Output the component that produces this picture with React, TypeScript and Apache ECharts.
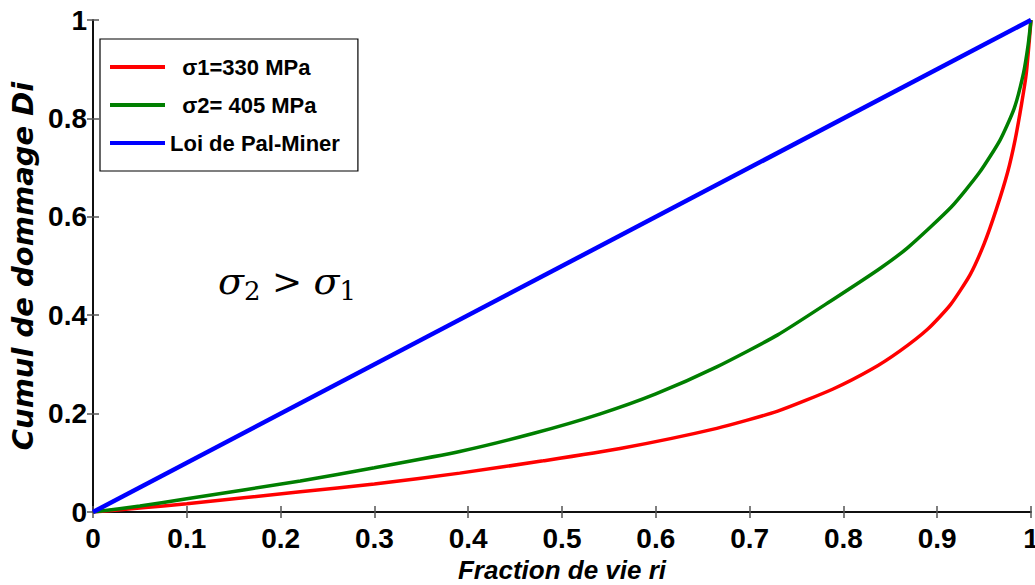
import React, { useEffect, useRef } from "react";
import * as echarts from "echarts";

const xTicks = [0, 0.1, 0.2, 0.3, 0.4, 0.5, 0.6, 0.7, 0.8, 0.9, 1];
const yTicks = [0, 0.2, 0.4, 0.6, 0.8, 1];

const seriesNames = ["  σ1=330 MPa", "  σ2= 405 MPa", "Loi de Pal-Miner"];
const seriesColors = ["#ff0000", "#007f00", "#0000ff"];

const sigma1: [number, number][] = [
  [0, 0], [0.05, 0.008], [0.1, 0.017], [0.221, 0.041], [0.3, 0.057], [0.391, 0.079],
  [0.48, 0.104], [0.562, 0.129], [0.665, 0.17], [0.73, 0.205], [0.789, 0.25],
  [0.83, 0.29], [0.86, 0.327], [0.89, 0.372], [0.914, 0.421], [0.935, 0.482],
  [0.95, 0.545], [0.963, 0.615], [0.975, 0.69], [0.983, 0.756], [0.99, 0.83],
  [0.995, 0.892], [1, 1],
];

const sigma2: [number, number][] = [
  [0, 0], [0.05, 0.012], [0.1, 0.027], [0.221, 0.063], [0.3, 0.09], [0.391, 0.123],
  [0.47, 0.16], [0.54, 0.199], [0.6, 0.24], [0.665, 0.295], [0.73, 0.36],
  [0.789, 0.432], [0.839, 0.495], [0.869, 0.538], [0.915, 0.62], [0.945, 0.69],
  [0.967, 0.756], [0.982, 0.82], [0.992, 0.892], [0.997, 0.95], [1, 1],
];

const miner: [number, number][] = [
  [0, 0], [1, 1],
];

const xName = "Fraction de vie ri";
const yName = "Cumul de dommage Di";

const NARROW = '"Liberation Sans Narrow", "Arial Narrow", "Liberation Sans", sans-serif';

export default function App() {
  const ref = useRef<HTMLDivElement>(null);
  useEffect(() => {
    if (!ref.current) return;
    const chart = echarts.init(ref.current, null, { renderer: "svg" });
    const tickLabel = {
      fontFamily: NARROW,
      fontWeight: "bold" as const,
      fontSize: 28,
      color: "#000",
    };
    const axisLine = { show: true, lineStyle: { color: "#000", width: 1.5 } };
    const axisTick = { show: true, inside: true, length: 6, lineStyle: { color: "#555", width: 1.5 } };
    const datas = [sigma1, sigma2, miner];
    chart.setOption({
      animation: false,
      backgroundColor: "#fff",
      grid: { left: 93, right: 4, top: 20, bottom: 73, containLabel: false, outerBoundsMode: "none" },
      xAxis: [
        {
          type: "value", min: 0, max: 1, interval: 0.1,
          axisLine, axisTick, splitLine: { show: false },
          axisLabel: {
            ...tickLabel, margin: 12,
            formatter: (v: number) => {
              const t = xTicks.find((x) => Math.abs(x - v) < 1e-6);
              return t === undefined ? "" : String(t);
            },
          },
          name: xName, nameLocation: "middle", nameGap: 40,
          nameTextStyle: {
            fontFamily: NARROW, fontWeight: "bold", fontStyle: "italic", fontSize: 26, color: "#000",
          },
        },
        {
          type: "value", min: 0, max: 1, interval: 0.1, position: "top",
          axisLine, axisTick, axisLabel: { show: false }, splitLine: { show: false },
        },
      ],
      yAxis: [
        {
          type: "value", min: 0, max: 1, interval: 0.2,
          axisLine, axisTick, splitLine: { show: false },
          axisLabel: {
            ...tickLabel, margin: 6,
            formatter: (v: number) => {
              const t = yTicks.find((y) => Math.abs(y - v) < 1e-6);
              return t === undefined ? "" : String(t);
            },
          },
          name: yName, nameLocation: "middle", nameGap: 56,
          nameTextStyle: {
            fontFamily: '"DejaVu Sans", sans-serif', fontWeight: "bold", fontStyle: "italic", fontSize: 29, color: "#000",
          },
        },
        {
          type: "value", min: 0, max: 1, interval: 0.2, position: "right",
          axisLine, axisTick, axisLabel: { show: false }, splitLine: { show: false },
        },
      ],
      legend: {
        orient: "vertical",
        left: 100,
        top: 39,
        padding: [17, 18, 17, 10],
        itemGap: 16,
        itemWidth: 55,
        itemHeight: 4,
        icon: "rect",
        borderColor: "#000",
        borderWidth: 1.2,
        backgroundColor: "#fff",
        textStyle: { fontFamily: NARROW, fontWeight: "bold", fontSize: 22, color: "#000" },
        data: seriesNames,
      },
      series: seriesNames.map((name, i) => ({
        name,
        type: "line",
        data: datas[i],
        showSymbol: false,
        smooth: i < 2 ? 0.2 : false,
        color: seriesColors[i],
        lineStyle: { color: seriesColors[i], width: i === 2 ? 4.5 : 3.5 },
        z: i === 2 ? 3 : 2,
      })),
      graphic: [
        {
          type: "text",
          left: 218,
          top: 262,
          style: {
            text: "{s|σ}{sub|2}{op| > }{s|σ}{sub|1}",
            rich: {
              s: { fontFamily: '"DejaVu Serif", serif', fontStyle: "italic", fontSize: 38, fill: "#000" },
              sub: { fontFamily: '"DejaVu Serif", serif', fontSize: 26, fill: "#000", padding: [20, 0, 0, 0] },
              op: { fontFamily: '"DejaVu Serif", serif', fontSize: 36, fill: "#000" },
            },
          },
        },
      ],
    });
    return () => chart.dispose();
  }, []);
  return (
    <div
      ref={ref}
      style={{ position: "fixed", left: 0, top: 0, width: 1035, height: 585, background: "#fff" }}
    />
  );
}
